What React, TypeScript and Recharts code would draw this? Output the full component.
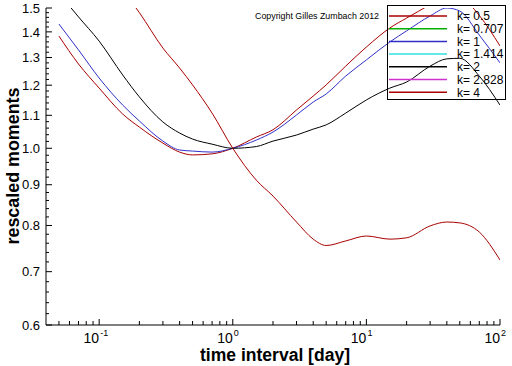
import { LineChart, Line, XAxis, YAxis } from "recharts"

const FONT = "'Liberation Sans', Arial, sans-serif"

// time interval in days
const intervals = [0.05, 0.07, 0.1, 0.15, 0.2, 0.3, 0.4, 0.5, 0.7, 1, 1.5, 2, 3, 4, 5, 7, 10, 15, 20, 30, 40, 50, 70, 100]

// rescaled moments per k
const k05 = [1.383, 1.276, 1.19, 1.104, 1.063, 1.015, 0.989, 0.981, 0.984, 1.0, 1.033, 1.055, 1.117, 1.163, 1.201, 1.268, 1.34, 1.416, 1.457, 1.515, 1.56, 1.55, 1.468, 1.344]
const k1 = [1.432, 1.329, 1.225, 1.133, 1.082, 1.021, 0.995, 0.992, 0.989, 1.0, 1.024, 1.048, 1.101, 1.143, 1.17, 1.232, 1.291, 1.36, 1.404, 1.466, 1.5, 1.487, 1.387, 1.28]
const k2 = [1.566, 1.462, 1.363, 1.236, 1.16, 1.079, 1.045, 1.027, 1.012, 1.0, 1.005, 1.021, 1.039, 1.057, 1.07, 1.107, 1.15, 1.19, 1.211, 1.268, 1.295, 1.297, 1.232, 1.133]
const k4 = [null, null, null, 1.58, 1.48, 1.336, 1.261, 1.201, 1.107, 1.0, 0.912, 0.871, 0.808, 0.769, 0.755, 0.765, 0.776, 0.769, 0.772, 0.799, 0.808, 0.806, 0.785, 0.724]

const legendItems = [
  { label: "k= 0.5", color: "#a80000" },
  { label: "k= 0.707", color: "#00b000" },
  { label: "k= 1", color: "#3030c8" },
  { label: "k= 1.414", color: "#30e0e0" },
  { label: "k= 2", color: "#000000" },
  { label: "k= 2.828", color: "#d030d0" },
  { label: "k= 4", color: "#a80000" },
]

const yMajorTicks = [0.6, 0.7, 0.8, 0.9, 1.0, 1.1, 1.2, 1.3, 1.4, 1.5]
const xMajorTicks = [0.1, 1, 10, 100]

const yTicks: number[] = []
yMajorTicks.forEach((v, i) => {
  yTicks.push(v)
  if (i < yMajorTicks.length - 1) {
    for (let j = 1; j < 5; j++) yTicks.push(Math.round((v + j * 0.02) * 100) / 100)
  }
})

const xTicks: number[] = []
;[0.01, 0.1, 1, 10].forEach((d) => {
  for (let m = 1; m < 10; m++) {
    const v = Math.round(d * m * 1000) / 1000
    if (v >= 0.05 && v <= 100) xTicks.push(v)
  }
})
xTicks.push(100)

const data = intervals.map((t, i) => ({ t, k05: k05[i], k1: k1[i], k2: k2[i], k4: k4[i] }))

const isMajor = (list: number[], v: number) => list.some((m) => Math.abs(m - v) < 1e-6)

const YTick = ({ x, y, payload }: any) => {
  const major = isMajor(yMajorTicks, payload.value)
  return (
    <g>
      <line x1={x} y1={y} x2={x + (major ? 6 : 3)} y2={y} stroke="#000" />
      {major && (
        <text x={x - 6} y={y} dy="0.36em" textAnchor="end" fontSize={13} fontFamily={FONT} fill="#000">
          {payload.value.toFixed(1)}
        </text>
      )}
    </g>
  )
}

const XTick = ({ x, y, payload }: any) => {
  const major = isMajor(xMajorTicks, payload.value)
  const exp = Math.round(Math.log10(payload.value))
  return (
    <g>
      <line x1={x} y1={y} x2={x} y2={y - (major ? 6 : 4)} stroke="#000" />
      {major && (
        <g fontFamily={FONT} fill="#000">
          <text x={x} y={y + 18} textAnchor="end" fontSize={14}>10</text>
          <text x={x + 1} y={y + 11} fontSize={9}>{exp}</text>
        </g>
      )}
    </g>
  )
}

export default function App() {
  return (
    <div style={{ position: "absolute", left: 0, top: 0, width: 512, height: 366, background: "#fff" }}>
      <LineChart width={512} height={366} data={data} margin={{ top: 8, right: 12, bottom: 40, left: 45 }}>
        <XAxis
          dataKey="t"
          type="number"
          scale="log"
          domain={[0.04, 100]}
          allowDataOverflow
          ticks={xTicks}
          interval={0}
          height={1}
          tickSize={0}
          tickMargin={0}
          tickLine={false}
          axisLine={{ stroke: "#000" }}
          tick={<XTick />}
        />
        <YAxis
          type="number"
          scale="log"
          domain={[0.6, 1.5]}
          allowDataOverflow
          ticks={yTicks}
          interval={0}
          width={1}
          tickSize={0}
          tickMargin={0}
          tickLine={false}
          axisLine={{ stroke: "#000" }}
          tick={<YTick />}
        />
        <Line dataKey="k05" type="monotone" stroke={legendItems[0].color} strokeWidth={1} dot={false} isAnimationActive={false} />
        <Line dataKey="k1" type="monotone" stroke={legendItems[2].color} strokeWidth={1} dot={false} isAnimationActive={false} />
        <Line dataKey="k2" type="monotone" stroke={legendItems[4].color} strokeWidth={1} dot={false} isAnimationActive={false} />
        <Line dataKey="k4" type="monotone" stroke={legendItems[6].color} strokeWidth={1} dot={false} isAnimationActive={false} />
      </LineChart>
      <svg width={512} height={366} style={{ position: "absolute", left: 0, top: 0, pointerEvents: "none" }}>
        <text x={255} y={19} fontSize={9} fontFamily={FONT} textLength={124} lengthAdjust="spacingAndGlyphs">
          Copyright Gilles Zumbach 2012
        </text>
        <rect x={387.5} y={5.5} width={118} height={94} fill="none" stroke="#000" />
        {legendItems.map((item, i) => (
          <g key={item.label}>
            <line x1={389} x2={447} y1={16 + i * 12.7} y2={16 + i * 12.7} stroke={item.color} strokeWidth={1.5} />
            <text x={457} y={16 + i * 12.7} dy="0.36em" fontSize={12} fontFamily={FONT}>
              {item.label}
            </text>
          </g>
        ))}
        <text x={275} y={361} textAnchor="middle" fontSize={18} fontWeight="bold" fontFamily={FONT} textLength={150} lengthAdjust="spacingAndGlyphs">
          time interval [day]
        </text>
        <text transform="translate(19,166) rotate(-90)" textAnchor="middle" fontSize={18} fontWeight="bold" fontFamily={FONT} textLength={157} lengthAdjust="spacingAndGlyphs">
          rescaled moments
        </text>
      </svg>
    </div>
  )
}
